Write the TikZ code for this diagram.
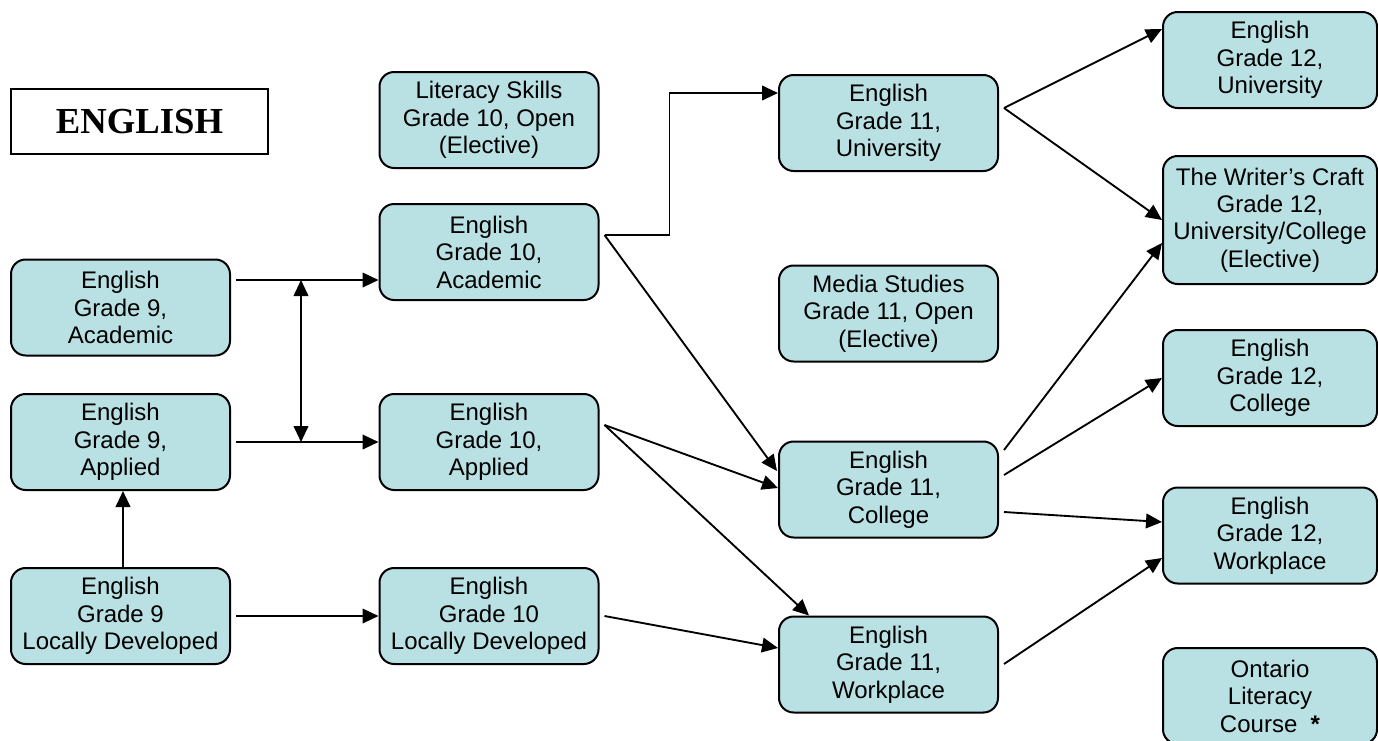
\documentclass[tikz,border=0pt]{standalone}
\usepackage{fontspec}
\setmainfont{Liberation Sans}
\newfontfamily\titlefont{Liberation Serif}
\usetikzlibrary{arrows.meta,calc}
\definecolor{boxfill}{RGB}{185,224,227}
\tikzset{
  course/.style={draw=black, line width=1.5pt, fill=boxfill, rounded corners=11pt,
    align=center, inner sep=2pt, font=\fontsize{18}{20.6}\selectfont,
    minimum width=164.25pt, minimum height=72pt},
  course12/.style={course, minimum width=160.5pt},
  conn/.style={line width=1.4pt, -{Triangle[length=12pt,width=11pt]}},
  dconn/.style={line width=1.4pt, {Triangle[length=12pt,width=11pt]}-{Triangle[length=12pt,width=11pt]}}
}
\begin{document}
\begin{tikzpicture}[x=0.75pt,y=-0.75pt]
\useasboundingbox (0,0) rectangle (1378,740);
\begin{scope}
\clip (0,0) rectangle (1378,740);
% title
\node[draw=black, line width=1.5pt, fill=white, minimum width=192.75pt, minimum height=48.75pt,
  font=\titlefont\bfseries\fontsize{27.5}{30}\selectfont] (eng) at (139.5,121.5) {ENGLISH};
% grade 9
\node[course] (g9a) at (120.5,307.5) {English\\Grade 9,\\Academic};
\node[course] (g9p) at (120.5,442) {English\\Grade 9,\\Applied};
\node[course] (g9l) at (120.5,616) {English\\Grade 9\\Locally Developed};
% grade 10
\node[course] (g10lit) at (489,120) {Literacy Skills\\Grade 10, Open\\(Elective)};
\node[course] (g10a) at (489,252) {English\\Grade 10,\\Academic};
\node[course] (g10p) at (489,442) {English\\Grade 10,\\Applied};
\node[course] (g10l) at (489,616) {English\\Grade 10\\Locally Developed};
% grade 11
\node[course] (g11u) at (888.5,123) {English\\Grade 11,\\University};
\node[course] (media) at (888.5,313.5) {Media Studies\\Grade 11, Open\\(Elective)};
\node[course] (g11c) at (888.5,489.5) {English\\Grade 11,\\College};
\node[course] (g11w) at (888.5,664.5) {English\\Grade 11,\\Workplace};
% grade 12
\node[course12] (g12u) at (1270,60) {English\\Grade 12,\\University};
\node[course12, minimum height=96pt] (wc) at (1270,220) {The Writer’s Craft\\Grade 12,\\University/College\\(Elective)};
\node[course12] (g12c) at (1270,378) {English\\Grade 12,\\College};
\node[course12] (g12w) at (1270,535.5) {English\\Grade 12,\\Workplace};
\node[course12] (olc) at (1270,696) {Ontario\\Literacy\\Course\ \ \textbf{*}};
\end{scope}
% connectors grade 9 -> 10
\draw[conn] ($(g9a.east)+(5,-27.5)$) -- ($(g10a.west)+(0,28)$);
\draw[conn] ($(g9p.east)+(5,0)$) -- (g10p.west);
\coordinate (j1) at ($(g9a.east)+(70,-27.5)$);
\coordinate (j2) at ($(g9p.east)+(70,0)$);
\draw[dconn] (j1) -- (j2);
\draw[conn] ($(g9l.east)+(5,0)$) -- (g10l.west);
\draw[conn] ($(g9l.north)+(2.5,0)$) -- ($(g9p.south)+(2.5,0)$);
% grade 10 -> 11
\coordinate (a10) at ($(g10a.east)+(5,-17)$);
\coordinate (p10) at ($(g10p.east)+(5,-17)$);
\draw[conn] (a10) -- ++(65,0) |- ($(g11u.west)+(0,-30)$);
\draw[conn] (a10) -- ($(g11c.west)+(-1,-18.5)$);
\draw[conn] (p10) -- ($(g11c.west)+(0,-1.5)$);
\draw[conn] (p10) -- ($(g11w.north west)+(31,0)$);
\draw[conn] ($(g10l.east)+(5,0)$) -- ($(g11w.west)+(0,-16.5)$);
% grade 11 -> 12
\coordinate (u11) at ($(g11u.east)+(5,-15)$);
\draw[conn] (u11) -- ($(g12u.west)+(0,-31)$);
\draw[conn] (u11) -- (wc.west);
\draw[conn] ($(g11c.east)+(5,-39.5)$) -- ($(wc.west)+(0,23)$);
\draw[conn] ($(g11c.east)+(5,-14.5)$) -- (g12c.west);
\draw[conn] ($(g11c.east)+(5,22.5)$) -- ($(g12w.west)+(0,-13.5)$);
\draw[conn] ($(g11w.east)+(5,-0.5)$) -- ($(g12w.west)+(0,22.5)$);
\end{tikzpicture}
\end{document}
